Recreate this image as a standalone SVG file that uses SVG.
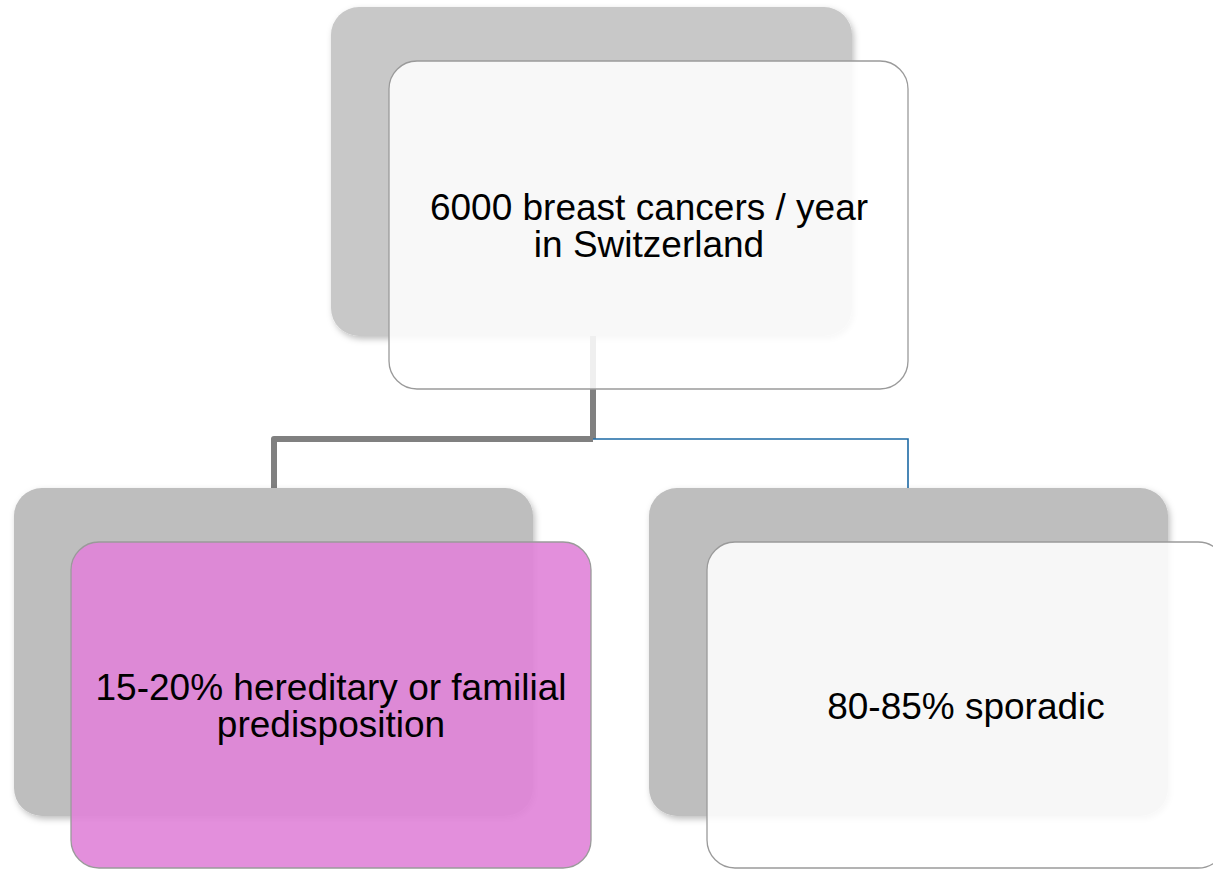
<svg xmlns="http://www.w3.org/2000/svg" width="1213" height="869" viewBox="0 0 1213 869">
<style>
.back{fill:#c8c8c8;filter:url(#sh)}
.back2{fill:#bebebe;filter:url(#sh)}
.front{fill:#ffffff;fill-opacity:0.87;stroke:#9a9a9a;stroke-width:1.3}
.pink{fill:#e084d8;fill-opacity:0.91;stroke:#9a9a9a;stroke-width:1.3}
.t{font-family:"Liberation Sans",Arial,sans-serif;font-size:37px;fill:#000;text-anchor:middle}
</style>
<defs>
<filter id="sh" x="-10%" y="-10%" width="130%" height="130%">
<feDropShadow dx="2" dy="3" stdDeviation="3" flood-color="#000" flood-opacity="0.25"/>
</filter>
</defs>
<rect width="1213" height="869" fill="#fff"/>
<g id="top-back"><rect class="back" x="331" y="7" width="521" height="329" rx="28"/></g>
<g id="connectors">
<path d="M593 336 V439" fill="none" stroke="#808080" stroke-width="6"/>
<path d="M908 488 V439 H593" fill="none" stroke="#1d6aa5" stroke-width="1.6"/>
<path d="M593 439 H274 V488" fill="none" stroke="#808080" stroke-width="6" stroke-linejoin="round"/>
</g>
<g id="top">
<rect class="front" x="389" y="61" width="519" height="328" rx="28"/>
<text class="t" x="649" y="220">6000 breast cancers / year</text>
<text class="t" x="649" y="257">in Switzerland</text>
</g>
<g id="left">
<rect class="back2" x="14" y="488" width="519" height="328" rx="28"/>
<rect class="pink" x="71" y="542" width="520" height="326" rx="28"/>
<text class="t" x="331" y="700">15-20% hereditary or familial</text>
<text class="t" x="331" y="737">predisposition</text>
</g>
<g id="right">
<rect class="back2" x="649" y="488" width="519" height="328" rx="28"/>
<rect class="front" x="707" y="542" width="519" height="326" rx="28"/>
<text class="t" x="966" y="719">80-85% sporadic</text>
</g>
</svg>
